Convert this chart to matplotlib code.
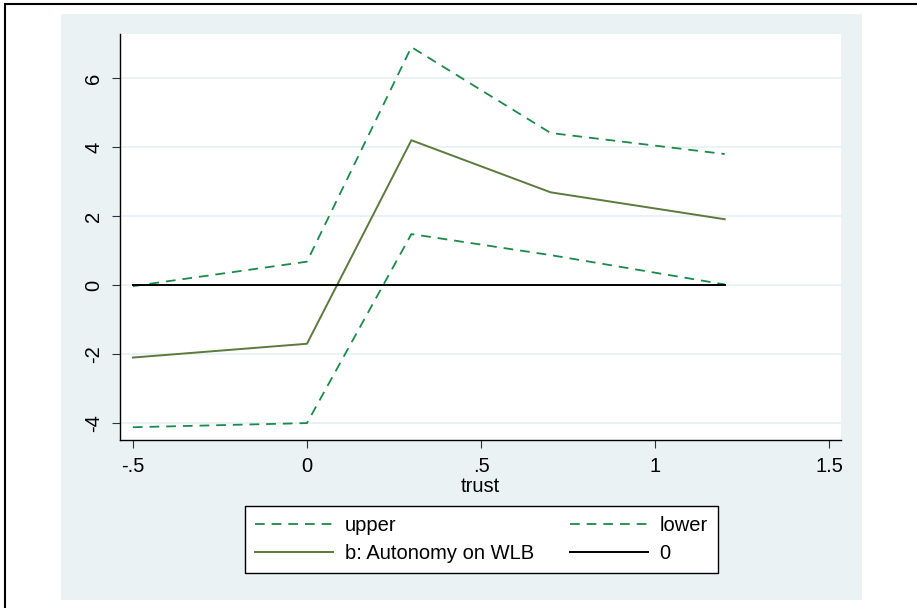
import matplotlib
matplotlib.use("Agg")
import matplotlib.pyplot as plt
from matplotlib.patches import Rectangle

plt.rcParams['font.family'] = ['Liberation Sans', 'DejaVu Sans']
plt.rcParams['lines.scale_dashes'] = False

trust = [-0.5, 0.0, 0.3, 0.7, 1.2]
upper = [-0.03, 0.68, 6.9, 4.41, 3.8]
lower = [-4.12, -4.0, 1.48, 0.87, 0.02]
b_est = [-2.1, -1.7, 4.2, 2.69, 1.91]
zero_x = [-0.5, 1.2]
zero_y = [0, 0]
xticks = [-0.5, 0, 0.5, 1, 1.5]
xticklabels = ['-.5', '0', '.5', '1', '1.5']
yticks = [-4, -2, 0, 2, 4, 6]
yticklabels = ['-4', '-2', '0', '2', '4', '6']

W, H = 917, 608
fig = plt.figure(figsize=(W/100, H/100), dpi=100)
fig.patch.set_facecolor('white')

FS = 14.5
bg = '#eaf2f3'
# outer black frame (left & top visible)
fig.add_artist(Rectangle((5/W, -0.1), 1.2, 1 - 4/H + 0.1, transform=fig.transFigure,
                         facecolor='none', edgecolor='black', lw=1.5))
# light blue inner region
fig.add_artist(Rectangle((61/W, 1 - 600/H), (862-61)/W, (600-14)/H, transform=fig.transFigure,
                         facecolor=bg, edgecolor='none', zorder=0))

ax = fig.add_axes([120/W, 1 - 440/H, (841-120)/W, (440-34)/H])
ax.set_facecolor('white')
ax.set_xlim(-0.537, 1.534)
ax.set_ylim(-4.49, 7.28)

green = '#1a8a4a'
olive = '#5b7a3c'
l_up, = ax.plot(trust, upper, color=green, lw=1.3, dashes=(7, 5), label='upper')
l_lo, = ax.plot(trust, lower, color=green, lw=1.3, dashes=(7, 5), label='lower')
l_b, = ax.plot(trust, b_est, color=olive, lw=1.4, label='b: Autonomy on WLB')
l_0, = ax.plot(zero_x, zero_y, color='black', lw=1.4, label='0')

for yv in yticks:
    ax.axhline(yv, color='#e8f0f3', lw=1.2, zorder=0)

for s in ['top', 'right']:
    ax.spines[s].set_visible(False)
for s in ['left', 'bottom']:
    ax.spines[s].set_color('black')
    ax.spines[s].set_linewidth(1.0)

ax.set_xticks(xticks)
ax.set_xticklabels(xticklabels)
ax.set_yticks(yticks)
ax.set_yticklabels(yticklabels, rotation=90, va='center')
ax.tick_params(axis='both', direction='out', length=6, width=0.8, color='#333333',
               labelsize=FS, pad=6)
ax.set_xlabel('trust', fontsize=FS, labelpad=1)

leg = fig.legend(handles=[l_up, l_b, l_lo, l_0], ncol=2, loc='upper left',
                 bbox_to_anchor=(245/W, 1 - 506/H), fontsize=FS, frameon=True,
                 fancybox=False, edgecolor='black', framealpha=1, handlelength=3.85,
                 handletextpad=0.6, columnspacing=1.8, borderpad=0.5,
                 labelspacing=0.45, borderaxespad=0)
leg.get_frame().set_linewidth(1.0)
leg.get_frame().set_facecolor('white')

fig.savefig('out.png', dpi=100)
